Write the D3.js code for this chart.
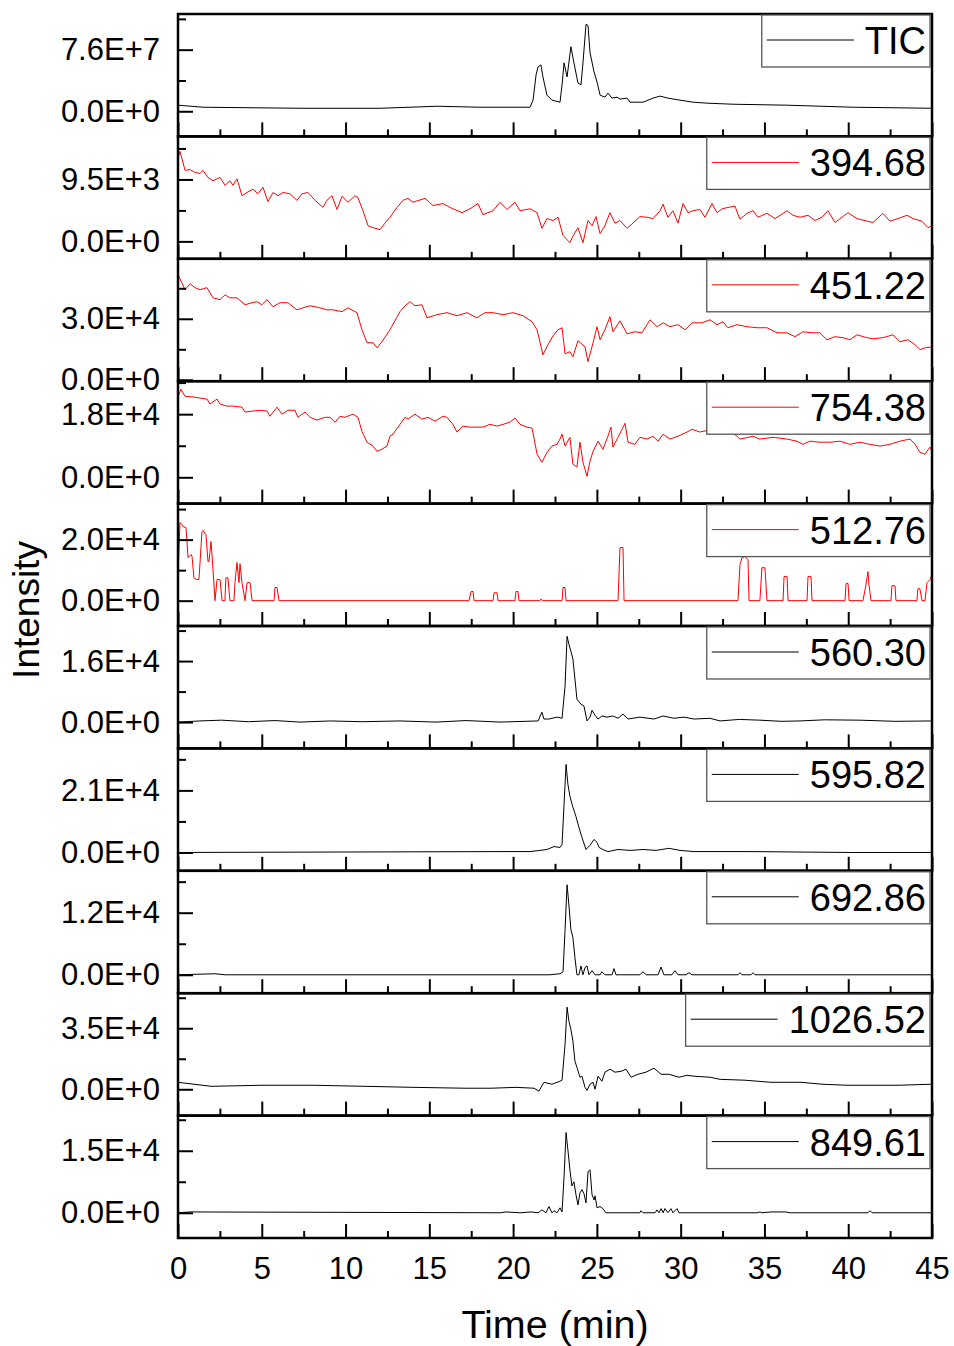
<!DOCTYPE html>
<html>
<head>
<meta charset="utf-8">
<script src="https://cdn.jsdelivr.net/npm/d3@7"></script>
<style>
    html, body { margin: 0; padding: 0; background: #fff; }
    svg { display: block; font-family: "Liberation Sans", Arial, sans-serif; }
</style>
</head>
<body>
<svg id="chart" width="954" height="1346"></svg>
<script>

// ---- data (time in min) ----

const ticTime = [0,1.49,7.28,12.06,15.46,18.02,21.01,21.19,21.37,21.49,21.66,21.78,22.02,22.32,22.80,22.92,23.04,23.22,23.45,23.63,23.87,24.05,24.17,24.35,24.47,24.59,24.83,25.01,25.19,25.48,25.66,25.90,26.20,26.38,26.80,26.98,27.75,28.35,28.77,29.24,29.96,30.74,31.57,33.12,36.35,40.28,45];
const ticValue = [0.75,0.50,0.37,0.37,0.62,0.50,0.50,1.37,4.49,5.48,5.73,4.24,1.99,1.37,1.12,3.24,5.98,4.24,7.97,5.98,3.49,3.24,5.98,10.72,10.59,7.23,4.86,3.61,1.99,1.74,2.24,1.62,1.74,1.50,1.62,1.12,1.12,1.62,1.87,1.62,1.37,1.12,1.00,0.87,0.75,0.50,0.37]; // x1e7

const mz394Time = [0,0.12,0.42,0.72,1.01,1.31,1.49,1.79,2.09,2.51,2.81,3.10,3.28,3.52,3.82,4.12,4.48,4.77,5.07,5.37,5.67,5.97,6.27,6.68,7.10,7.40,7.76,8.18,8.65,8.89,9.19,9.49,9.79,10.15,10.56,10.74,11.04,11.34,11.64,12.06,12.35,12.65,13.07,13.43,13.73,14.02,14.74,15.22,15.82,16.23,16.95,17.43,17.90,18.20,18.80,19.22,19.63,20.11,20.41,21.01,21.43,21.72,22.02,22.38,22.68,22.98,23.39,23.57,23.87,24.17,24.47,24.71,24.95,25.19,25.48,25.78,26.08,26.38,26.80,27.15,27.57,27.99,28.35,28.77,28.95,29.24,29.54,29.84,30.14,30.44,30.74,31.15,31.45,31.87,32.17,32.47,32.82,33.24,33.54,33.96,34.32,34.61,35.15,35.63,36.35,36.70,37.12,37.60,38.02,38.43,38.79,39.21,39.63,39.99,40.52,41.12,41.48,42.07,42.49,42.97,43.51,43.86,44.40,44.76,45];
const mz394Value = [12.7,13.8,10.9,11.0,10.6,10.4,10.9,9.8,9.3,9.8,8.6,9.3,8.6,9.6,7.0,7.5,8.0,7.3,8.3,6.1,7.5,7.0,7.5,7.3,6.3,7.3,7.5,6.3,5.2,6.3,7.0,4.9,6.9,6.0,7.0,6.7,4.7,2.4,2.1,1.8,2.8,3.7,5.2,6.3,6.6,6.0,6.6,5.5,5.8,5.2,4.4,5.0,5.8,4.1,4.7,6.0,4.9,6.0,4.7,5.0,4.4,2.0,3.5,3.2,3.7,0.9,-0.2,0.8,2.1,-0.2,3.2,2.4,3.8,1.2,2.4,4.4,2.8,3.2,2.0,2.8,3.8,3.7,3.5,4.7,5.7,3.7,4.7,2.8,5.8,4.4,4.7,4.9,3.7,5.8,4.4,5.0,5.2,5.4,3.4,4.3,4.7,3.7,4.3,3.5,4.7,4.0,3.7,4.0,3.2,3.7,4.7,2.9,3.7,4.4,3.5,3.1,2.9,4.3,3.1,3.5,4.0,3.5,3.1,2.1,2.4]; // x1e3

const mz451Time = [0,0.42,0.72,1.01,1.31,1.73,2.09,2.51,2.81,3.10,3.52,4.00,4.42,4.71,5.01,5.31,5.67,6.09,6.56,7.10,7.46,7.88,8.47,8.89,9.25,9.79,10.15,10.68,10.98,11.28,11.64,11.88,12.17,12.65,13.25,13.55,13.85,14.14,14.56,14.86,15.46,16.05,16.65,17.25,17.84,18.32,18.80,19.40,19.99,20.59,21.13,21.43,21.78,22.08,22.38,22.68,22.92,23.10,23.39,23.57,23.87,24.29,24.47,24.77,25.01,25.19,25.48,25.78,25.96,26.38,26.80,27.27,27.69,28.17,28.59,28.95,29.36,29.84,30.26,30.68,31.27,31.75,32.17,32.53,32.82,33.36,33.96,34.56,35.15,35.75,36.35,36.82,37.30,37.84,38.31,38.73,39.21,39.69,40.10,40.52,41.12,41.48,42.07,42.67,43.09,43.57,43.99,44.28,44.58,45];
const mz451Value = [5.17,4.43,4.72,4.53,4.43,4.53,4.03,3.94,4.18,4.03,4.03,3.69,3.79,3.84,3.69,3.94,3.59,3.79,3.79,3.44,3.54,3.64,3.54,3.44,3.44,3.35,3.54,3.30,2.46,1.82,1.82,1.57,1.87,2.46,3.35,3.64,3.84,3.64,3.69,3.05,3.20,3.30,3.15,3.30,3.05,3.30,3.30,3.20,3.30,3.15,2.85,2.46,1.23,1.72,2.16,2.46,2.56,1.28,1.38,1.13,1.92,1.62,0.89,1.82,2.61,1.97,2.46,3.10,2.36,2.90,2.26,2.36,2.31,2.95,2.61,2.80,2.61,2.71,2.46,2.80,2.80,2.95,2.71,2.85,2.56,2.71,2.61,2.56,2.56,2.31,2.31,2.12,2.36,2.31,2.31,1.97,2.12,2.07,1.97,2.21,2.07,2.02,2.07,2.21,1.87,1.97,1.72,1.48,1.57,1.62]; // x1e4

const mz754Time = [0,0.18,0.42,0.90,1.31,1.73,1.91,2.33,2.51,2.92,3.28,3.82,4.00,4.48,4.89,5.31,5.49,5.91,6.21,6.56,6.98,7.16,7.58,7.88,8.30,8.77,9.07,9.37,9.67,9.97,10.44,10.74,10.98,11.28,11.64,11.88,12.17,12.47,12.65,12.83,13.13,13.55,13.73,14.14,14.56,14.92,15.34,15.82,16.05,16.41,16.65,17.01,17.43,17.84,18.20,18.62,19.04,19.40,19.81,20.11,20.41,20.83,21.13,21.43,21.72,22.02,22.32,22.62,22.80,22.92,23.10,23.39,23.57,23.81,23.99,24.17,24.41,24.59,24.77,25.07,25.36,25.66,25.84,25.96,26.26,26.50,26.68,26.86,27.27,27.57,27.99,28.35,28.65,28.95,29.36,29.84,30.38,30.68,31.15,31.93,32.65,33.36,33.54,34.32,34.73,35.51,36.35,36.94,37.30,37.72,38.31,38.91,39.51,40.10,40.70,41.30,41.90,42.49,43.09,43.69,43.99,44.28,44.58,44.88,45];
const mz754Value = [2.29,2.51,2.31,2.29,2.26,2.23,2.09,2.23,2.09,2.03,2.03,2.00,1.86,1.89,1.91,1.89,1.74,2.00,1.80,1.91,1.91,1.71,1.86,1.71,1.63,1.71,1.71,1.57,1.74,1.71,1.80,1.71,1.31,1.00,0.89,0.74,0.80,0.89,1.17,1.23,1.43,1.71,1.66,1.80,1.66,1.71,1.60,1.74,1.71,1.51,1.29,1.46,1.43,1.43,1.43,1.51,1.46,1.51,1.57,1.69,1.51,1.43,1.40,0.66,0.43,0.71,0.89,0.94,1.09,1.23,0.89,1.14,0.37,0.29,1.00,0.43,0.03,0.46,0.74,1.03,0.80,1.17,1.43,0.86,1.14,1.37,1.54,1.00,0.94,1.14,1.09,1.17,1.03,1.23,1.09,1.17,1.29,1.37,1.29,1.37,1.43,1.17,1.09,1.17,1.09,1.14,1.09,1.03,0.94,1.03,1.00,1.00,1.03,0.94,1.00,0.94,0.89,0.94,1.03,1.09,0.94,0.71,0.66,0.86,0.74]; // x1e4

const mz512Time = [0,0.12,0.24,0.30,0.48,0.60,0.78,0.84,0.95,1.13,1.25,1.43,1.49,1.67,1.79,1.85,1.97,2.03,2.21,2.33,2.51,2.63,2.80,2.86,2.98,3.10,3.34,3.40,3.52,3.64,3.70,3.82,4.00,4.12,4.30,4.42,5.73,5.79,5.91,6.03,17.37,17.49,17.61,17.67,18.80,18.86,19.04,19.10,20.11,20.17,20.29,20.35,21.60,21.66,21.78,22.92,22.98,23.10,23.16,26.26,26.38,26.56,26.62,33.42,33.54,33.66,33.84,34.02,34.08,34.73,34.85,35.03,35.15,36.11,36.17,36.35,36.41,37.54,37.60,37.78,37.84,39.81,39.87,39.99,40.05,40.88,41.06,41.18,41.24,41.36,42.55,42.61,42.79,42.85,44.10,44.16,44.28,44.40,44.58,44.70,44.88,45];
const mz512Value = [0.85,2.56,2.49,2.43,2.39,1.41,1.51,1.44,0.75,0.69,0.69,2.26,2.30,2.16,1.28,1.28,1.94,1.51,0,0.69,0.69,0,0,0.75,0.75,0,0,0.59,1.25,0.59,1.21,0.59,0,0.59,0.59,0,0,0.43,0.43,0,0,0.30,0.30,0,0,0.26,0.26,0,0,0.30,0.30,0,0,0.05,0,0,0.43,0.43,0,0,1.74,1.74,0,0,1.18,1.41,1.45,1.34,0,0,1.08,1.08,0,0,0.79,0.79,0,0,0.79,0.79,0,0,0.56,0.56,0,0,0.52,0.95,0.52,0,0,0.49,0.49,0,0,0.39,0.39,0,0,0.59,0.69,0.85]; // x1e4

const mz560Time = [0,1.31,2.60,4.20,5.80,7.28,9.10,11.00,13.25,15.40,17.20,19.22,21.49,21.72,21.84,22.14,22.62,22.92,23.10,23.22,23.33,23.45,23.57,23.69,23.81,24.05,24.23,24.41,24.59,24.71,24.89,25.07,25.30,25.60,25.96,26.26,26.56,26.86,27.57,28.41,28.95,29.60,30.20,30.80,31.75,32.35,33.50,34.73,36.00,37.12,38.60,40.70,42.80,45];
const mz560Value = [0,0.03,0.05,0.01,0.04,0,0.03,0.01,0.03,0,0.04,0,0.03,0.26,0.08,0.08,0.13,0.10,0.94,2.25,2.04,1.86,1.65,1.13,0.60,0.47,0.42,0.03,0.13,0.31,0.18,0.08,0.16,0.13,0.16,0.10,0.21,0.08,0.13,0.08,0.16,0.10,0.13,0.08,0.10,0.03,0.07,0.05,0.02,0.03,0.06,0.05,0.02,0.03]; // x1e4

const mz595Time = [0,19.22,21.01,21.60,22.02,22.44,22.80,22.92,23.04,23.16,23.27,23.39,23.57,23.75,23.93,24.11,24.35,24.59,24.83,25.01,25.13,25.36,25.66,26.26,26.98,27.75,28.53,29.30,29.96,30.80,34.14,40.10,45];
const mz595Value = [0,0.03,0.03,0.07,0.10,0.20,0.17,0.27,1.63,2.98,2.31,1.90,1.53,1.22,0.85,0.51,0.10,0.24,0.44,0.34,0.17,0.10,0.03,0.10,0.07,0.10,0.07,0.14,0.07,0.03,0.03,0,0]; // x1e4

const mz692Time = [0,2.21,2.80,22.20,22.80,22.98,23.10,23.22,23.33,23.45,23.57,23.69,23.81,23.93,24.05,24.17,24.29,24.41,24.53,24.71,24.89,25.19,25.30,25.48,25.90,26.02,26.14,27.57,27.75,27.93,28.65,28.83,29.00,29.48,29.66,29.84,30.32,30.50,30.68,33.42,33.54,33.66,34.20,34.32,34.44,45];
const mz692Value = [0,0.02,0,0,0.02,0.06,0.87,1.74,1.35,0.87,0.72,0.33,0,0,0.17,0,0.14,0.17,0,0.08,0,0,0.06,0,0,0.12,0,0,0.06,0,0,0.15,0,0,0.08,0,0,0.04,0,0,0.04,0,0,0.04,0,0]; // x1e4

const mz1026Time = [0,1.97,5.01,8.06,11.10,14.08,17.13,18.68,20.17,21.25,21.54,21.84,22.32,22.80,22.92,23.10,23.22,23.33,23.45,23.57,23.69,23.81,23.99,24.11,24.29,24.41,24.59,24.77,24.89,25.07,25.30,25.48,25.78,26.08,26.44,26.74,27.04,27.45,27.93,28.41,28.83,29.30,29.90,30.38,30.80,31.75,32.35,33.84,35.39,37.18,38.43,39.93,41.42,42.97,45];
const mz1026Value = [0.40,0.17,0.23,0.23,0.17,0.11,0.06,0.06,0.11,0.06,-0.11,0.40,0.29,0.46,0.52,2.58,4.71,3.90,3.44,2.76,1.61,1.26,0.69,0.75,0.11,-0.06,0.29,0.40,0,0.75,0.46,0.98,1.15,0.98,1.03,1.15,0.69,0.86,0.98,1.21,0.86,0.86,0.69,0.80,0.75,0.69,0.57,0.52,0.40,0.40,0.29,0.23,0.23,0.23,0.29]; // x1e4

const mz849Time = [0,0.72,19.22,19.57,20.41,21.07,21.49,21.72,21.96,22.14,22.32,22.44,22.62,22.80,22.92,23.04,23.16,23.27,23.39,23.51,23.63,23.75,23.87,23.99,24.11,24.23,24.35,24.47,24.59,24.71,24.83,24.89,25.01,25.19,25.36,25.54,27.57,27.63,27.75,28.47,28.59,28.71,28.83,28.95,29.06,29.24,29.42,29.54,29.78,29.90,34.61,34.73,34.85,35.39,36.29,36.52,41.18,41.30,41.42,45];
const mz849Value = [0,0.02,0,0.02,0,0.02,0,0.07,0,0.15,0,0.05,0,0.12,0.02,0.87,1.94,1.52,1.04,0.65,0.75,0.44,0.19,0.48,0.56,0.46,0.24,0.99,1.04,0.44,0.31,0.41,0.12,0.15,0.10,0,0,0.05,0,0,0.07,0,0.10,0,0.10,0,0.10,0,0.10,0,0,0.02,0,0.02,0.02,0,0,0.05,0,0]; // x1e4

const legendNames = ["TIC", "394.68", "451.22", "754.38", "512.76", "560.30", "595.82", "692.86", "1026.52", "849.61"];
const labelTicks = [7.6e7, 9.5e3, 3.0e4, 1.8e4, 2.0e4, 1.6e4, 2.1e4, 1.2e4, 3.5e4, 1.5e4];
const xTicks = [0, 5, 10, 15, 20, 25, 30, 35, 40, 45];


// ---- panel setup ----

const panels = [
    { t: ticTime,   v: ticValue,   unit: 1e7, color: "#000", domain: [-3.1e7, 1.2e8] },
    { t: mz394Time, v: mz394Value, unit: 1e3, color: "#ff0000", domain: [-2.67e3, 1.61e4] },
    { t: mz451Time, v: mz451Value, unit: 1e4, color: "#ff0000", domain: [-700, 5.95e4] },
    { t: mz754Time, v: mz754Value, unit: 1e4, color: "#ff0000", domain: [-7.5e3, 2.74e4] },
    { t: mz512Time, v: mz512Value, unit: 1e4, color: "#ff0000", domain: [-8.3e3, 3.18e4] },
    { t: mz560Time, v: mz560Value, unit: 1e4, color: "#000", domain: [-6.9e3, 2.52e4] },
    { t: mz595Time, v: mz595Value, unit: 1e4, color: "#000", domain: [-6.2e3, 3.52e4] },
    { t: mz692Time, v: mz692Value, unit: 1e4, color: "#000", domain: [-3.56e3, 2.01e4] },
    { t: mz1026Time, v: mz1026Value, unit: 1e4, color: "#000", domain: [-1.51e4, 5.51e4] },
    { t: mz849Time, v: mz849Value, unit: 1e4, color: "#000", domain: [-6.1e3, 2.35e4] }
];

const plotLeft = 178, plotRight = 932, plotTop = 14, panelH = 122.4;
const legendRight = 930, textRight = 926;
const tickFont = 31;

const svg = d3.select("#chart");
const x = d3.scaleLinear().domain([0, 45]).range([plotLeft, plotRight]);

const fmt = d => d.toExponential(1).toUpperCase();

const line = d3.line()
    .x(d => x(d[0]))
    .y(d => d.y);

const styleAxis = (a) => {
    a.select(".domain").remove();
    a.selectAll("line").attr("stroke", "#000").attr("stroke-width", 2);
    a.selectAll("text").attr("font-size", tickFont).attr("fill", "#000")
        .attr("font-family", "Liberation Sans, Arial, sans-serif");
};

panels.forEach((p, i) => {
    let py = plotTop + i * panelH;
    let y = d3.scaleLinear().domain(p.domain).range([py + panelH, py]);
    let tick = labelTicks[i];
    let g = svg.append("g").attr("class", "panel");

    // clip so traces stay inside the frame
    g.append("clipPath").attr("id", "clip" + i)
        .append("rect")
        .attr("x", plotLeft).attr("y", py)
        .attr("width", plotRight - plotLeft).attr("height", panelH);

    let pts = d3.zip(p.t, p.v).map(d => {
        let r = [d[0], d[1] * p.unit];
        r.y = y(r[1]);
        return r;
    });

    g.append("path")
        .attr("clip-path", `url(#clip${i})`)
        .attr("d", line(pts))
        .attr("fill", "none")
        .attr("stroke", p.color)
        .attr("stroke-width", 1)
        .attr("stroke-linejoin", "round");

    // y axis: major ticks labelled, minor between
    let yMajor = d3.axisLeft(y)
        .tickValues([0, tick])
        .tickSizeInner(-15).tickSizeOuter(0)
        .tickPadding(18)
        .tickFormat(fmt);
    let minors = [tick / 2, tick * 1.5, -tick / 2].filter(v => v > p.domain[0] && v < p.domain[1]);
    let yMinor = d3.axisLeft(y)
        .tickValues(minors)
        .tickSizeInner(-8).tickSizeOuter(0)
        .tickFormat("");

    [yMajor, yMinor].forEach(ax => {
        g.append("g").attr("transform", `translate(${plotLeft},0)`).call(ax).call(styleAxis);
    });

    // x ticks along the bottom of each panel, pointing up
    let last = i === panels.length - 1;
    let xMajor = d3.axisBottom(x)
        .tickValues(xTicks)
        .tickSizeInner(-14).tickSizeOuter(0)
        .tickPadding(19)
        .tickFormat(last ? d3.format("d") : "");
    let xMinor = d3.axisBottom(x)
        .tickValues(d3.range(2.5, 45, 5))
        .tickSizeInner(-7).tickSizeOuter(0)
        .tickFormat("");

    [xMajor, xMinor].forEach(ax => {
        g.append("g").attr("transform", `translate(0,${py + panelH})`).call(ax).call(styleAxis);
    });

    // frame
    g.append("rect")
        .attr("x", plotLeft).attr("y", py)
        .attr("width", plotRight - plotLeft).attr("height", panelH)
        .attr("fill", "none")
        .attr("stroke", "#000")
        .attr("stroke-width", 2.5);

    // legend
    let lg = g.append("g").attr("class", "legend");
    let box = lg.append("rect");
    let txt = lg.append("text")
        .attr("x", textRight).attr("y", py + 40)
        .attr("text-anchor", "end")
        .attr("font-size", 38)
        .attr("fill", "#000")
        .text(legendNames[i]);
    let w = txt.node().getComputedTextLength();
    let bx = textRight - w - 103;
    box.attr("x", bx).attr("y", py + 1)
        .attr("width", legendRight - bx).attr("height", 52)
        .attr("fill", "#fff")
        .attr("stroke", "#555")
        .attr("stroke-width", 1.3);
    lg.append("line")
        .attr("x1", bx + 5).attr("x2", bx + 92)
        .attr("y1", py + 26).attr("y2", py + 26)
        .attr("stroke", p.color)
        .attr("stroke-width", 1);
});

// axis titles
svg.append("text")
    .attr("transform", "translate(39,610) rotate(-90)")
    .attr("text-anchor", "middle")
    .attr("font-size", 37)
    .text("Intensity");

svg.append("text")
    .attr("x", (plotLeft + plotRight) / 2).attr("y", 1338)
    .attr("text-anchor", "middle")
    .attr("font-size", 39.5)
    .text("Time (min)");

</script>
</body>
</html>
